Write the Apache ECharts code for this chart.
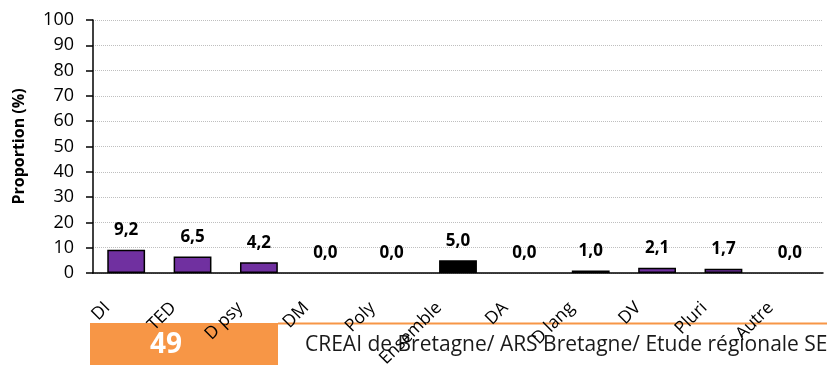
<!DOCTYPE html>
<html><head><meta charset="utf-8">
<script src="https://cdn.jsdelivr.net/npm/echarts@6/dist/echarts.min.js"></script>
<style>html,body{margin:0;padding:0;background:#fff}#c{width:827px;height:371px}</style>
</head><body><div id="c"></div>
<script>
const categories = ['DI','TED','D psy','DM','Poly','Ensemble','DA','D lang','DV','Pluri','Autre'];
const values = [9.2, 6.5, 4.2, 0.0, 0.0, 5.0, 0.0, 1.0, 2.1, 1.7, 0.0];
const highlight = 'Ensemble';
const yTicks = [0,10,20,30,40,50,60,70,80,90,100];
const footerNumber = '49';
const footerText = 'CREAI de Bretagne/ ARS Bretagne/ Etude régionale SE';

const chart = echarts.init(document.getElementById('c'), null, {renderer:'canvas'});
const font = '"Open Sans", "Liberation Sans", sans-serif';
chart.setOption({
  animation:false,
  backgroundColor:'#fff',
  grid:{left:93, right:4, top:20, bottom:98, containLabel:false},
  xAxis:{
    type:'category', data:categories,
    axisLine:{lineStyle:{color:'#000', width:1.5}},
    axisTick:{show:false},
    axisLabel:{rotate:45, margin:13, color:'#000', fontSize:17.5, fontFamily:font, interval:0,
      padding:[0,27,0,0]}
  },
  yAxis:{
    type:'value', min:yTicks[0], max:yTicks[yTicks.length-1], interval:10,
    name:'Proportion (%)', nameLocation:'middle', nameGap:66, nameRotate:90,
    nameTextStyle:{fontSize:16, fontWeight:'bold', color:'#000', fontFamily:font},
    axisLine:{show:true, lineStyle:{color:'#000', width:1.5}},
    axisTick:{show:true, length:7, lineStyle:{color:'#000', width:1.5}},
    axisLabel:{color:'#000', fontSize:18, fontFamily:font, margin:19},
    splitLine:{show:true, lineStyle:{color:'#BFBFBF', type:[1,1], width:1}}
  },
  series:[{
    type:'bar', barWidth:'57%',
    data: values.map((v,i)=>({value:v, itemStyle:{
      color: categories[i]===highlight ? '#000' : '#7030A0',
      borderWidth: v===0 ? 0 : 1.5}})),
    itemStyle:{borderColor:'#000', borderWidth:1.5},
    label:{show:true, position:'top', distance:11, fontSize:17, fontWeight:'bold', color:'#000', fontFamily:font,
      formatter:p=>p.value.toFixed(1).replace('.',',')}
  }],
  graphic:[
    {type:'rect', shape:{x:90, y:323, width:188, height:42}, style:{fill:'#F79646'}, z:-1},
    {type:'line', shape:{x1:278, y1:323.5, x2:827, y2:323.5}, style:{stroke:'#F79646', lineWidth:2}, z:-1},
    {type:'text', x:166, y:345, style:{text:footerNumber, fill:'#fff', font:'bold 28px '+font, textAlign:'center', textVerticalAlign:'middle'}, z:-1},
    {type:'text', x:305, y:345, style:{text:footerText, fill:'#1a1a1a', font:'21px '+font, textAlign:'left', textVerticalAlign:'middle'}, z:-1}
  ]
});
</script></body></html>
